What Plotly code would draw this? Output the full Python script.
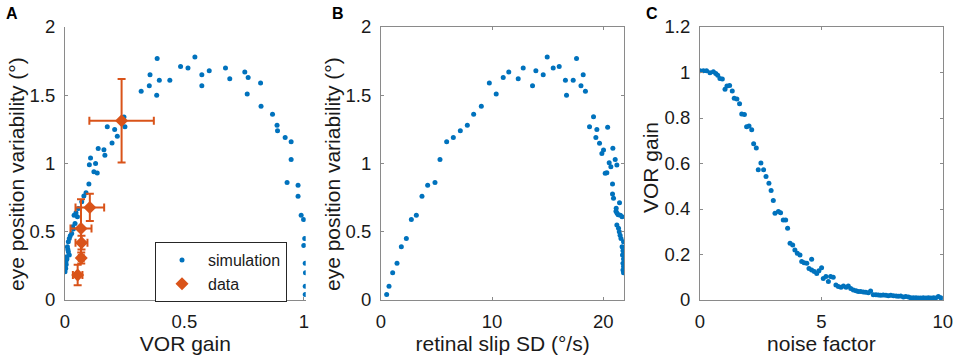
import plotly.graph_objects as go

# ---------------- data ----------------
# Panel A: simulation (VOR gain vs eye position variability)
sim_gain = [0.000, 0.003, 0.000, 0.005, 0.004, 0.008, 0.007, 0.018, 0.014, 0.012, 0.010,
            0.014, 0.018, 0.022, 0.028, 0.035, 0.032, 0.042, 0.052, 0.038, 0.046, 0.056,
            0.070, 0.079, 0.088, 0.100, 0.102, 0.107, 0.121, 0.128, 0.135, 0.139, 0.163,
            0.167, 0.177, 0.197, 0.208, 0.219, 0.247, 0.251, 0.319, 0.353, 0.356, 0.384,
            0.386, 0.395, 0.439, 0.484, 0.515, 0.544, 0.573, 0.573, 0.604, 0.672, 0.690,
            0.753, 0.767, 0.763, 0.819, 0.821, 0.869, 0.888, 0.890, 0.922, 0.947, 0.947,
            0.930, 0.976, 0.976, 0.989, 0.999, 1.004, 1.000, 1.006, 1.007, 1.006, 1.006]
sim_var_a = [0.207, 0.230, 0.244, 0.260, 0.280, 0.300, 0.317, 0.330, 0.354, 0.370, 0.390,
             0.427, 0.450, 0.470, 0.488, 0.520, 0.537, 0.560, 0.610, 0.620, 0.640, 0.670,
             0.720, 0.762, 0.786, 0.850, 0.990, 1.040, 0.940, 1.000, 0.930, 1.110, 1.100,
             1.060, 1.270, 1.150, 1.250, 1.200, 1.340, 1.270, 1.530, 1.570, 1.650, 1.500,
             1.770, 1.610, 1.610, 1.710, 1.700, 1.780, 1.650, 1.570, 1.680, 1.700, 1.620,
             1.670, 1.630, 1.510, 1.590, 1.420, 1.360, 1.280, 1.240, 1.190, 1.160, 1.030,
             0.860, 0.840, 0.760, 0.620, 0.590, 0.450, 0.400, 0.270, 0.200, 0.100, 0.040]

# Panel A: experimental data (mean +/- error)
data_gain = [0.237, 0.104, 0.067, 0.069, 0.068, 0.053]
data_var = [1.313, 0.678, 0.523, 0.420, 0.308, 0.183]
data_gain_err = [0.135, 0.060, 0.044, 0.025, 0.010, 0.020]
data_var_err = [0.306, 0.100, 0.215, 0.050, 0.040, 0.075]

# Panel B: retinal slip SD vs eye position variability
slip_sd = [0.51, 0.72, 1.05, 1.44, 1.83, 2.28, 2.73, 3.18, 3.69, 4.20, 4.86, 5.31, 5.91,
           6.51, 7.14, 7.77, 8.34, 9.03, 9.75, 10.37, 11.00, 11.50, 12.35, 12.80, 13.64,
           13.94, 14.60, 14.96, 15.50, 16.04, 16.60, 16.70, 17.30, 17.60, 18.00, 18.20,
           18.40, 19.13, 18.77, 19.43, 20.40, 19.34, 19.67, 20.03, 19.88, 20.87, 21.08,
           20.54, 20.69, 21.23, 20.33, 20.18, 20.84, 20.84, 20.93, 21.47, 21.17, 21.15,
           21.25, 21.35, 21.55, 21.70, 21.23, 21.38, 21.45, 21.52, 21.60, 21.83, 21.70,
           21.78, 21.74, 21.83, 21.78, 21.83, 21.78, 21.83]
sim_var_b = [0.04, 0.10, 0.20, 0.27, 0.39, 0.45, 0.59, 0.62, 0.76, 0.84, 0.86, 1.03, 1.16,
             1.19, 1.24, 1.28, 1.36, 1.42, 1.59, 1.51, 1.63, 1.67, 1.62, 1.70, 1.57,
             1.68, 1.65, 1.78, 1.70, 1.71, 1.61, 1.50, 1.61, 1.77, 1.57, 1.65,
             1.53, 1.343, 1.27, 1.25, 1.265, 1.19, 1.148, 1.099, 1.074, 1.111, 1.03,
             1.006, 0.977, 0.989, 0.933, 0.928, 0.85, 0.777, 0.745, 0.713, 0.672, 0.65,
             0.635, 0.625, 0.62, 0.61, 0.55, 0.525, 0.50, 0.475, 0.45, 0.427, 0.39,
             0.36, 0.33, 0.30, 0.27, 0.245, 0.22, 0.20]

# Panel C: noise factor vs VOR gain
noise_factor = [0.00, 0.14, 0.27, 0.41, 0.55, 0.65, 0.73, 0.82, 0.92, 1.03, 1.11, 1.22, 1.33,
                1.41, 1.52, 1.63, 1.72, 1.83, 1.92, 2.02, 2.13, 2.21, 2.32, 2.40, 2.51, 2.62,
                2.72, 2.84, 2.93, 3.02, 3.09, 3.23, 3.32, 3.43, 3.53, 3.61, 3.71, 3.82, 3.91,
                4.01, 4.12, 4.19, 4.29, 4.40, 4.49, 4.60, 4.60, 4.71, 4.81, 4.90, 5.01, 5.08,
                5.19, 5.29, 5.38, 5.49, 5.60, 5.70, 5.81, 5.91, 6.02, 6.11, 6.21, 6.32, 6.43,
                6.52, 6.62, 6.73, 6.83, 6.94, 7.03, 7.14, 7.25, 7.35, 7.45, 7.55, 7.66, 7.76,
                7.86, 7.97, 8.08, 8.17, 8.27, 8.38, 8.48, 8.59, 8.68, 8.79, 8.90, 9.00, 9.09,
                9.20, 9.31, 9.41, 9.51, 9.62, 9.71, 9.82, 9.92, 10.00]
vor_gain_c = [1.008, 1.008, 1.008, 0.999, 1.003, 0.996, 0.988, 0.974, 0.971, 0.926, 0.941,
              0.943, 0.919, 0.887, 0.884, 0.863, 0.818, 0.815, 0.762, 0.765, 0.748, 0.687,
              0.668, 0.573, 0.602, 0.573, 0.543, 0.513, 0.481, 0.437, 0.381, 0.389, 0.384,
              0.352, 0.352, 0.315, 0.249, 0.242, 0.220, 0.205, 0.198, 0.169, 0.164, 0.161,
              0.139, 0.179, 0.132, 0.125, 0.117, 0.129, 0.142, 0.095, 0.103, 0.081, 0.103,
              0.100, 0.066, 0.059, 0.056, 0.062, 0.056, 0.062, 0.051, 0.044, 0.041, 0.037,
              0.037, 0.035, 0.034, 0.032, 0.040, 0.023, 0.023, 0.022, 0.021, 0.022, 0.021,
              0.019, 0.021, 0.019, 0.018, 0.016, 0.018, 0.013, 0.015, 0.013, 0.010, 0.010,
              0.010, 0.009, 0.009, 0.010, 0.009, 0.010, 0.009, 0.010, 0.009, 0.015, 0.010,
              0.007]

ticks_a_x = [0, 0.5, 1]
ticks_var = [0, 0.5, 1, 1.5, 2]
ticks_b_x = [0, 10, 20]
ticks_c_x = [0, 5, 10]
ticks_c_y = [0, 0.2, 0.4, 0.6, 0.8, 1, 1.2]

title_a_x = "VOR gain"
title_ab_y = "eye position variability (°)"
title_b_x = "retinal slip SD (°/s)"
title_c_x = "noise factor"
title_c_y = "VOR gain"

# ---------------- style ----------------
BLUE = "#0072BD"
ORANGE = "#D95319"
FONT = "Liberation Sans, Arial, Helvetica, sans-serif"
W, H = 957, 361
AX_COL = "#8a8a8a"
TXT = "#1a1a1a"
TICK_SIZE = 18.5
TITLE_SIZE = 21


def px_x(p):
    return p / W


def px_y(p):
    return 1 - p / H


fig = go.Figure()

fig.add_trace(go.Scatter(x=sim_gain, y=sim_var_a, mode="markers", name="simulation",
                         marker=dict(color=BLUE, size=5), xaxis="x", yaxis="y"))
fig.add_trace(go.Scatter(x=data_gain, y=data_var, mode="markers", name="data",
                         marker=dict(color=ORANGE, size=10, symbol="diamond"),
                         error_x=dict(type="data", array=data_gain_err, color=ORANGE,
                                      thickness=2, width=4),
                         error_y=dict(type="data", array=data_var_err, color=ORANGE,
                                      thickness=2, width=4),
                         xaxis="x", yaxis="y"))
fig.add_trace(go.Scatter(x=slip_sd, y=sim_var_b, mode="markers", showlegend=False,
                         marker=dict(color=BLUE, size=5), xaxis="x2", yaxis="y2"))
fig.add_trace(go.Scatter(x=noise_factor, y=vor_gain_c, mode="markers", showlegend=False,
                         marker=dict(color=BLUE, size=5), xaxis="x3", yaxis="y3"))

y_dom = [px_y(300), px_y(27)]


def xax(anchor, dom, rng, tv, title, mirror):
    return dict(domain=dom, range=rng, tickvals=tv, anchor=anchor, automargin=False,
                showline=True, linecolor=AX_COL,
                linewidth=1, mirror="ticks" if mirror else False, ticks="inside",
                ticklen=3, tickcolor=AX_COL, showgrid=False, zeroline=False,
                tickfont=dict(family=FONT, size=TICK_SIZE, color=TXT),
                ticklabelstandoff=5,
                title=dict(text=title, font=dict(family=FONT, size=TITLE_SIZE, color=TXT),
                           standoff=2))


def yax(anchor, rng, tv, mirror):
    return dict(domain=y_dom, range=rng, tickvals=tv, anchor=anchor, automargin=False,
                showline=True,
                linecolor=AX_COL, linewidth=1, mirror="ticks" if mirror else False,
                ticks="inside", ticklen=3, tickcolor=AX_COL, showgrid=False,
                zeroline=False, tickfont=dict(family=FONT, size=TICK_SIZE, color=TXT),
                ticklabelstandoff=5)


def ytitle(text, cx, cy):
    return dict(text=text, x=px_x(cx), y=px_y(cy), xref="paper", yref="paper",
                xanchor="center", yanchor="middle", textangle=-90, showarrow=False,
                font=dict(family=FONT, size=TITLE_SIZE, color=TXT))


def panel_label(text, lx):
    return dict(text="<b>%s</b>" % text, x=px_x(lx), y=px_y(3), xref="paper",
                yref="paper", xanchor="left", yanchor="top", showarrow=False,
                font=dict(family=FONT, size=16, color="black"))


fig.update_layout(
    width=W, height=H,
    autosize=False,
    margin=dict(l=0, r=0, t=0, b=0, pad=0),
    paper_bgcolor="white", plot_bgcolor="white",
    xaxis=xax("y", [px_x(65), px_x(305.7)], [0, 1.008], ticks_a_x, title_a_x, False),
    yaxis=yax("x", [0, 2], ticks_var, False),
    xaxis2=xax("y2", [px_x(381), px_x(624.3)], [0, 21.9], ticks_b_x, title_b_x, True),
    yaxis2=yax("x2", [0, 2], ticks_var, True),
    xaxis3=xax("y3", [px_x(700), px_x(942.7)], [0, 10], ticks_c_x, title_c_x, True),
    yaxis3=yax("x3", [0, 1.2], ticks_c_y, True),
    showlegend=True,
    legend=dict(x=px_x(155), y=px_y(242), xanchor="left", yanchor="top",
                bordercolor="#262626", borderwidth=1, bgcolor="white",
                itemwidth=42,
                font=dict(family=FONT, size=16, color=TXT), tracegroupgap=0),
    annotations=[
        ytitle(title_ab_y, 16, 174),
        ytitle(title_ab_y, 332, 174),
        ytitle(title_c_y, 650.5, 167.5),
        panel_label("A", 4),
        panel_label("B", 330),
        panel_label("C", 644),
    ],
)

fig.write_html("out.html",
               config={"displayModeBar": False},
               post_script="document.body.style.margin='0';"
                           "document.body.style.overflow='hidden';")
